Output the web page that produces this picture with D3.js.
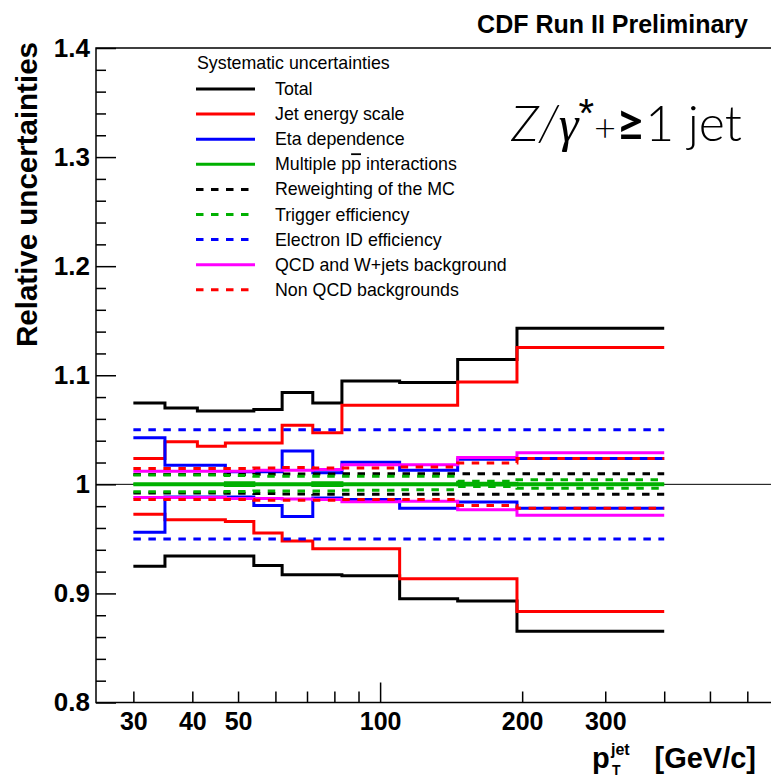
<!DOCTYPE html>
<html><head><meta charset="utf-8">
<script src="https://cdn.jsdelivr.net/npm/d3@7"></script>
<style>
html,body{margin:0;padding:0;background:#fff;}
svg{display:block;}
</style></head>
<body>
<svg id="chart" width="771" height="781"></svg>
<script>
// ---------- data ----------
const binEdges = [30, 35, 41, 47, 54, 62, 72, 83, 110, 146, 195, 400];
const xTickLabels = [30, 40, 50, 100, 200, 300];
const yTickLabels = [0.8, 0.9, 1.0, 1.1, 1.2, 1.3, 1.4];

const totalUp    = [1.0746, 1.0700, 1.0673, 1.0673, 1.0685, 1.0841, 1.0746, 1.0948, 1.0933, 1.1144, 1.1431];
const totalDown  = [0.9248, 0.9342, 0.9342, 0.9342, 0.9257, 0.9171, 0.9171, 0.9162, 0.8951, 0.8930, 0.8654];
const jesUp      = [1.0236, 1.0390, 1.0350, 1.0378, 1.0378, 1.0541, 1.0474, 1.0725, 1.0725, 1.0939, 1.1254];
const jesDown    = [0.9725, 0.9676, 0.9676, 0.9660, 0.9553, 0.9480, 0.9410, 0.9410, 0.9135, 0.9135, 0.8835];
const etaUp      = [1.0428, 1.0174, 1.0174, 1.0115, 1.0115, 1.0306, 1.0107, 1.0202, 1.0130, 1.0230, 1.0236];
const etaDown    = [0.9560, 0.9885, 0.9885, 0.9885, 0.9805, 0.9706, 0.9875, 0.9860, 0.9780, 0.9838, 0.9780];
const mpiUp      = [1.0006, 1.0006, 1.0006, 1.0015, 1.0006, 1.0006, 1.0015, 1.0006, 1.0006, 1.0010, 1.0006];
const mpiDown    = [0.9997, 0.9997, 0.9997, 0.9990, 0.9997, 0.9997, 0.9990, 0.9997, 0.9997, 0.9995, 0.9997];
const rewUp      = [1.0090, 1.0090, 1.0090, 1.0090, 1.0092, 1.0095, 1.0095, 1.0098, 1.0098, 1.0098, 1.0098];
const rewDown    = [0.9920, 0.9920, 0.9920, 0.9918, 0.9915, 0.9912, 0.9910, 0.9908, 0.9908, 0.9908, 0.9908];
const trigUp     = [1.0085, 1.0085, 1.0085, 1.0080, 1.0075, 1.0075, 1.0075, 1.0073, 1.0073, 1.0028, 1.0043];
const trigDown   = [0.9932, 0.9932, 0.9932, 0.9935, 0.9938, 0.9940, 0.9940, 0.9945, 0.9950, 0.9980, 0.9963];
const eleUp      = [1.0500, 1.0500, 1.0500, 1.0500, 1.0500, 1.0500, 1.0500, 1.0500, 1.0500, 1.0500, 1.0500];
const eleDown    = [0.9500, 0.9500, 0.9500, 0.9500, 0.9500, 0.9500, 0.9500, 0.9500, 0.9500, 0.9500, 0.9500];
const qcdUp      = [1.0120, 1.0120, 1.0120, 1.0120, 1.0128, 1.0130, 1.0135, 1.0180, 1.0180, 1.0245, 1.0290];
const qcdDown    = [0.9880, 0.9880, 0.9880, 0.9870, 0.9870, 0.9865, 0.9862, 0.9840, 0.9845, 0.9768, 0.9716];
const nonqcdUp   = [1.0145, 1.0145, 1.0145, 1.0145, 1.0150, 1.0155, 1.0150, 1.0150, 1.0160, 1.0196, 1.0236];
const nonqcdDown = [0.9860, 0.9860, 0.9860, 0.9860, 0.9855, 0.9855, 0.9855, 0.9860, 0.9860, 0.9807, 0.9780];

const seriesNames = ["Total", "Jet energy scale", "Eta dependence", "Multiple pp interactions",
  "Reweighting of the MC", "Trigger efficiency", "Electron ID efficiency",
  "QCD and W+jets background", "Non QCD backgrounds"];

// ---------- styles ----------
const GREEN = "#00b000";
const series = [
  {name: seriesNames[0], up: totalUp,  down: totalDown,  color: "#000000", dash: null},
  {name: seriesNames[1], up: jesUp,    down: jesDown,    color: "#ff0000", dash: null},
  {name: seriesNames[2], up: etaUp,    down: etaDown,    color: "#0000ff", dash: null},
  {name: seriesNames[3], up: mpiUp,    down: mpiDown,    color: GREEN,     dash: null},
  {name: seriesNames[4], up: rewUp,    down: rewDown,    color: "#000000", dash: "7.5,7.5"},
  {name: seriesNames[5], up: trigUp,   down: trigDown,   color: GREEN,     dash: "7.5,7.5"},
  {name: seriesNames[6], up: eleUp,    down: eleDown,    color: "#0000ff", dash: "7.5,7.5"},
  {name: seriesNames[7], up: qcdUp,    down: qcdDown,    color: "#ff00ff", dash: null},
  {name: seriesNames[8], up: nonqcdUp, down: nonqcdDown, color: "#ff0000", dash: "7.5,7.5"}
];

// ---------- layout ----------
const svg = d3.select("#chart");
const fam = "Liberation Sans, Arial, sans-serif";
const frameL = 96, frameT = 48, frameB = 702.5, frameR = 852;
const x = d3.scaleLog().domain([25, 1000]).range([frameL, frameR]);
const y = d3.scaleLinear().domain([0.8, 1.4]).range([frameB, frameT]);

// reference line at 1
svg.append("line").attr("x1", frameL).attr("x2", frameR)
  .attr("y1", y(1)).attr("y2", y(1)).attr("stroke", "#000").attr("stroke-width", 1);

// step histograms
const line = d3.line().curve(d3.curveStepAfter).x(d => x(d[0])).y(d => y(d[1]));
function pts(vals) {
  const p = vals.map((v, i) => [binEdges[i], v]);
  p.push([binEdges[binEdges.length - 1], vals[vals.length - 1]]);
  return p;
}
const gLines = svg.append("g").attr("fill", "none");
series.forEach(s => {
  [s.up, s.down].forEach(vals => {
    gLines.append("path").attr("d", line(pts(vals)))
      .attr("stroke", s.color).attr("stroke-width", 3)
      .attr("stroke-dasharray", s.dash);
  });
});

// frame
svg.append("rect").attr("x", frameL).attr("y", frameT)
  .attr("width", frameR - frameL).attr("height", frameB - frameT)
  .attr("fill", "none").attr("stroke", "#000").attr("stroke-width", 1.5);

// y axis
const yMinor = d3.range(0, 31).map(i => 0.8 + i * 0.02).filter(v => Math.abs(Math.round(v * 10) - v * 10) > 1e-6);
svg.append("g").attr("transform", `translate(${frameL},0)`)
  .call(d3.axisLeft(y).tickValues(yMinor).tickSize(-10).tickFormat(""))
  .call(g => g.select(".domain").remove())
  .call(g => g.selectAll("line").attr("stroke", "#000").attr("stroke-width", 1.5));
svg.append("g").attr("transform", `translate(${frameL},0)`)
  .call(d3.axisLeft(y).tickValues(yTickLabels).tickSize(-20).tickPadding(6)
    .tickFormat(d => Math.abs(d - 1) < 1e-9 ? "1" : d3.format(".1f")(d)))
  .call(g => g.select(".domain").remove())
  .call(g => g.selectAll("line").attr("stroke", "#000").attr("stroke-width", 1.5))
  .call(g => g.selectAll("text").attr("font-family", fam)
    .attr("font-weight", "bold").attr("font-size", 26).attr("fill", "#000"));

// x axis
const xMinor = [30, 40, 50, 60, 70, 80, 90, 200, 300, 400, 500, 600, 700, 800, 900];
svg.append("g").attr("transform", `translate(0,${frameB})`)
  .call(d3.axisBottom(x).tickValues(xMinor).tickSize(-11).tickFormat(""))
  .call(g => g.select(".domain").remove())
  .call(g => g.selectAll("line").attr("stroke", "#000").attr("stroke-width", 1.5));
svg.append("g").attr("transform", `translate(0,${frameB})`)
  .call(d3.axisBottom(x).tickValues([100, 1000]).tickSize(-20).tickFormat(""))
  .call(g => g.select(".domain").remove())
  .call(g => g.selectAll("line").attr("stroke", "#000").attr("stroke-width", 1.5));
svg.append("g").attr("transform", `translate(0,${frameB})`)
  .call(d3.axisBottom(x).tickValues(xTickLabels).tickSize(0).tickPadding(10).tickFormat(d3.format("d")))
  .call(g => g.select(".domain").remove())
  .call(g => g.selectAll("text").attr("font-family", fam)
    .attr("font-weight", "bold").attr("font-size", 25).attr("fill", "#000"));

// axis titles
svg.append("text").attr("transform", "translate(37,347) rotate(-90)")
  .attr("text-anchor", "start").attr("font-family", fam)
  .attr("font-weight", "bold").attr("font-size", 29.5).text("Relative uncertainties");

function txt(xp, yp, size, s) {
  return svg.append("text").attr("x", xp).attr("y", yp).attr("font-size", size)
    .attr("font-family", fam).attr("font-weight", "bold").text(s);
}
txt(592, 768, 29, "p");
txt(611, 755, 16, "jet");
txt(612, 775, 14, "T");
txt(756, 768, 29, "[GeV/c]").attr("text-anchor", "end");

// header title
svg.append("text").attr("x", 748).attr("y", 33).attr("text-anchor", "end")
  .attr("font-family", fam).attr("font-weight", "bold")
  .attr("font-size", 25).text("CDF Run II Preliminary");

// process label
const pl = svg.append("text").attr("x", 742).attr("y", 141).attr("text-anchor", "end")
  .attr("font-family", "Lato, 'Open Sans', sans-serif").attr("font-weight", 300).attr("font-size", 50);
pl.append("tspan").attr("font-style", "italic").text("Z/");
pl.append("tspan").attr("font-style", "italic").attr("font-family", "Liberation Serif, serif").text("γ");
pl.append("tspan").attr("font-size", 40).attr("dy", -14).attr("font-family", "Liberation Sans, sans-serif").text("*");
pl.append("tspan").attr("font-size", 38).attr("dy", 14).text("+");
pl.append("tspan").attr("font-weight", 700).text("≥");
pl.append("tspan").text("1 jet");

// legend
const legX1 = 196, legX2 = 255, legTx = 275, legY0 = 89, legDy = 25.1;
svg.append("text").attr("x", 197).attr("y", 69).attr("font-family", fam).attr("font-size", 17.8)
  .text("Systematic uncertainties");
series.forEach((s, i) => {
  const yy = legY0 + i * legDy;
  svg.append("line").attr("x1", legX1).attr("x2", legX2).attr("y1", yy).attr("y2", yy)
    .attr("stroke", s.color).attr("stroke-width", 3).attr("stroke-dasharray", s.dash);
  const t = svg.append("text").attr("x", legTx).attr("y", yy + 6).attr("font-family", fam).attr("font-size", 17.8);
  if (i === 3) {
    t.append("tspan").text("Multiple p");
    t.append("tspan").attr("text-decoration", "overline").text("p");
    t.append("tspan").text(" interactions");
  } else {
    t.text(s.name);
  }
});
</script>
</body></html>
